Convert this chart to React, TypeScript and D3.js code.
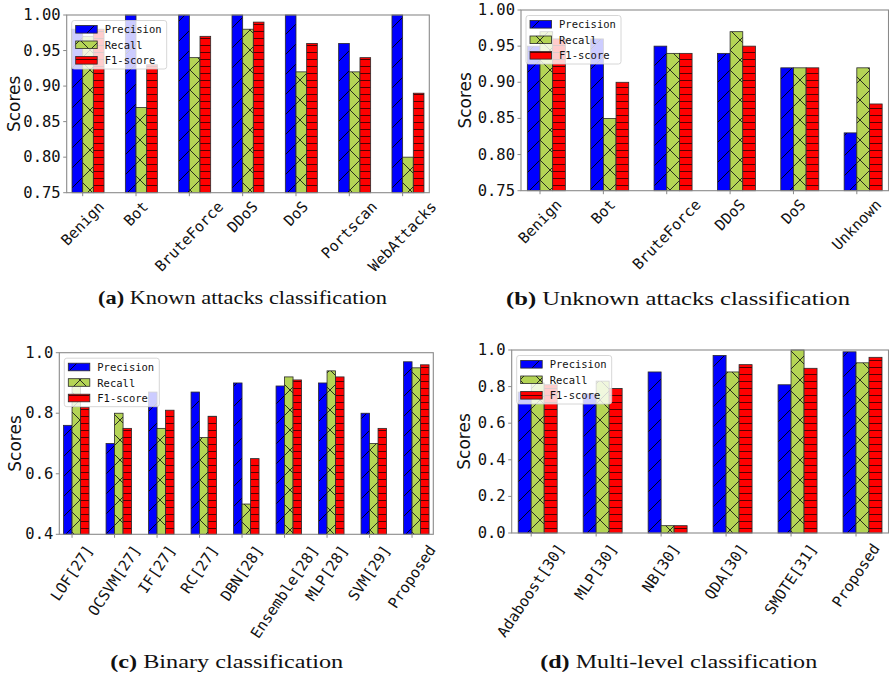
import React from "react";
import * as d3 from "d3";

// ===== data =====
const seriesNames = ["Precision", "Recall", "F1-score"];

// (a) known attacks
const knownCats = ["Benign", "Bot", "BruteForce", "DDoS", "DoS", "Portscan", "WebAttacks"];
const knownPrecision = [0.98, 1.0, 1.0, 1.0, 1.0, 0.96, 1.0];
const knownRecall = [0.97, 0.87, 0.94, 0.98, 0.92, 0.92, 0.8];
const knownF1 = [0.98, 0.93, 0.97, 0.99, 0.96, 0.94, 0.89];

// (b) unknown attacks
const unknownCats = ["Benign", "Bot", "BruteForce", "DDoS", "DoS", "Unknown"];
const unknownPrecision = [0.95, 0.96, 0.95, 0.94, 0.92, 0.83];
const unknownRecall = [0.97, 0.85, 0.94, 0.97, 0.92, 0.92];
const unknownF1 = [0.96, 0.9, 0.94, 0.95, 0.92, 0.87];

// (c) binary
const binaryCats = ["LOF[27]", "OCSVM[27]", "IF[27]", "RC[27]", "DBN[28]", "Ensemble[28]", "MLP[28]", "SVM[29]", "Proposed"];
const binaryPrecision = [0.76, 0.7, 0.87, 0.87, 0.9, 0.89, 0.9, 0.8, 0.97];
const binaryRecall = [0.89, 0.8, 0.75, 0.72, 0.5, 0.92, 0.94, 0.7, 0.95];
const binaryF1 = [0.82, 0.75, 0.81, 0.79, 0.65, 0.91, 0.92, 0.75, 0.96];

// (d) multi-level
const multiCats = ["Adaboost[30]", "MLP[30]", "NB[30]", "QDA[30]", "SMOTE[31]", "Proposed"];
const multiPrecision = [0.77, 0.76, 0.88, 0.97, 0.81, 0.99];
const multiRecall = [0.82, 0.83, 0.04, 0.88, 1.0, 0.93];
const multiF1 = [0.81, 0.79, 0.04, 0.92, 0.9, 0.96];

const yTicksHigh = [0.75, 0.8, 0.85, 0.9, 0.95, 1.0];
const yTicksBinary = [0.4, 0.6, 0.8, 1.0];
const yTicksMulti = [0.0, 0.2, 0.4, 0.6, 0.8, 1.0];

// ===== styles =====
const fills = ["url(#hatchSlash)", "url(#hatchCross)", "url(#hatchDash)"];
const MONO = "'DejaVu Sans Mono', monospace";
const SANS = "'DejaVu Sans', sans-serif";
const SERIF = "'Liberation Serif', 'Times New Roman', serif";
const SPINE = "#8a8a8a";
const BAR_W = 0.2;

const panels = [
  {
    key: "a", cats: knownCats, values: [knownPrecision, knownRecall, knownF1],
    yDomain: [0.75, 1.0], yTicks: yTicksHigh, fmt: ".2f",
    left: 66.7, right: 429.3, top: 15, bottom: 192.7, ylabelX: 14,
    rot: 46, labelFs: 15, labelPad: 7,
    capLetter: "(a)", capText: " Known attacks classification", capX: 242.5, capY: 304, capW: 289,
  },
  {
    key: "b", cats: unknownCats, values: [unknownPrecision, unknownRecall, unknownF1],
    yDomain: [0.75, 1.0], yTicks: yTicksHigh, fmt: ".2f",
    left: 521, right: 888.5, top: 10, bottom: 190.7, ylabelX: 465,
    rot: 46, labelFs: 15, labelPad: 7,
    capLetter: "(b)", capText: " Unknown attacks classification", capX: 678, capY: 305, capW: 344,
  },
  {
    key: "c", cats: binaryCats, values: [binaryPrecision, binaryRecall, binaryF1],
    yDomain: [0.4, 1.0], yTicks: yTicksBinary, fmt: ".1f",
    left: 59.3, right: 433.3, top: 352.7, bottom: 534.3, ylabelX: 15,
    rot: 56, labelFs: 15, labelPad: 9,
    capLetter: "(c)", capText: " Binary classification", capX: 226.7, capY: 668, capW: 233,
  },
  {
    key: "d", cats: multiCats, values: [multiPrecision, multiRecall, multiF1],
    yDomain: [0, 1.0], yTicks: yTicksMulti, fmt: ".1f",
    left: 511.7, right: 888.5, top: 350, bottom: 533, ylabelX: 464,
    rot: 56, labelFs: 15, labelPad: 9,
    capLetter: "(d)", capText: " Multi-level classification", capX: 678.7, capY: 668, capW: 277,
  },
];

function Panel({ p }: { p: any }) {
  const n = p.cats.length;
  const x = d3.scaleLinear().domain([-0.3, n - 1 + 0.5]).range([p.left, p.right]);
  const y = d3.scaleLinear().domain(p.yDomain).range([p.bottom, p.top]);
  const fmt = d3.format(p.fmt);

  const charW = 0.602 * p.labelFs;
  const rad = (p.rot * Math.PI) / 180;

  const bars: any[] = [];
  p.values.forEach((vals: number[], s: number) => {
    vals.forEach((v, i) => {
      const x0 = x(i + (s - 1) * BAR_W);
      const x1 = x(i + s * BAR_W);
      bars.push({ key: `${s}-${i}`, x: x0, w: x1 - x0, y: y(v), h: y(p.yDomain[0]) - y(v), s });
    });
  });

  // legend
  const lgX = p.left + 5;
  const lgY = p.top + 5.5;
  const rowH = 15.5;

  return (
    <g>
      {bars.map((b) => (
        <rect
          key={b.key}
          x={b.x}
          y={b.y}
          width={b.w}
          height={b.h}
          fill={fills[b.s]}
          stroke="#2a2a2a"
          strokeWidth={0.8}
        />
      ))}

      {/* spines */}
      <rect
        x={p.left}
        y={p.top}
        width={p.right - p.left}
        height={p.bottom - p.top}
        fill="none"
        stroke={SPINE}
        strokeWidth={1.1}
      />

      {/* y axis */}
      {p.yTicks.map((t: number) => (
        <g key={t}>
          <line x1={p.left - 3.5} x2={p.left} y1={y(t)} y2={y(t)} stroke={SPINE} strokeWidth={1} />
          <text
            x={p.left - 6}
            y={y(t)}
            textAnchor="end"
            dominantBaseline="central"
            fontFamily={MONO}
            fontSize={15.5}
            fill="#111"
          >
            {fmt(t)}
          </text>
        </g>
      ))}
      <text
        transform={`translate(${p.ylabelX},${(p.top + p.bottom) / 2}) rotate(-90)`}
        textAnchor="middle"
        dominantBaseline="central"
        fontFamily={SANS}
        fontSize={17}
        fill="#111"
      >
        Scores
      </text>

      {/* x axis */}
      {p.cats.map((c: string, i: number) => {
        const tx = x(i);
        const L = c.length * charW;
        const H = p.labelFs * 0.85;
        const cy = p.bottom + p.labelPad + (L * Math.sin(rad) + H * Math.cos(rad)) / 2;
        return (
          <g key={c}>
            <line x1={tx} x2={tx} y1={p.bottom} y2={p.bottom + 3.5} stroke={SPINE} strokeWidth={1} />
            <text
              transform={`translate(${tx},${cy}) rotate(${-p.rot})`}
              textAnchor="middle"
              dominantBaseline="central"
              fontFamily={MONO}
              fontSize={p.labelFs}
              fill="#111"
            >
              {c}
            </text>
          </g>
        );
      })}

      {/* legend */}
      <rect x={lgX} y={lgY} width={95} height={48.5} rx={2.5} fill="white" fillOpacity={0.8} stroke="#cccccc" strokeWidth={0.8} />
      {seriesNames.map((name, s) => {
        const cy = lgY + 8.8 + s * rowH;
        return (
          <g key={name}>
            <rect x={lgX + 4} y={cy - 3.8} width={21.5} height={7.6} fill={fills[s]} stroke="#2a2a2a" strokeWidth={0.8} />
            <text x={lgX + 33} y={cy} dominantBaseline="central" fontFamily={MONO} fontSize={10.5} fill="#111">
              {name}
            </text>
          </g>
        );
      })}

      {/* caption */}
      <text
        x={p.capX}
        y={p.capY}
        textAnchor="middle"
        fontFamily={SERIF}
        fontSize={19.5}
        fill="#111"
        textLength={p.capW}
        lengthAdjust="spacingAndGlyphs"
      >
        <tspan fontWeight="bold">{p.capLetter}</tspan>
        <tspan>{p.capText}</tspan>
      </text>
    </g>
  );
}

export default function App() {
  return (
    <svg
      width={889}
      height={683}
      viewBox="0 0 889 683"
      style={{ position: "absolute", left: 0, top: 0, background: "white" }}
    >
      <defs>
        <pattern id="hatchSlash" patternUnits="userSpaceOnUse" width={20} height={20}>
          <rect width={20} height={20} fill="#0000ff" />
          <path d="M0,20 L20,0 M-5,5 L5,-5 M15,25 L25,15" stroke="#000" strokeWidth={0.9} />
        </pattern>
        <pattern id="hatchCross" patternUnits="userSpaceOnUse" width={20} height={20}>
          <rect width={20} height={20} fill="#b4d455" />
          <path
            d="M0,20 L20,0 M-5,5 L5,-5 M15,25 L25,15 M0,0 L20,20 M-5,15 L5,25 M15,-5 L25,5"
            stroke="#1a1a1a"
            strokeWidth={0.9}
          />
        </pattern>
        <pattern id="hatchDash" patternUnits="userSpaceOnUse" width={10} height={7}>
          <rect width={10} height={7} fill="#ff0000" />
          <line x1={0} x2={10} y1={3.5} y2={3.5} stroke="#400000" strokeWidth={0.9} />
        </pattern>
      </defs>
      {panels.map((p) => (
        <Panel key={p.key} p={p} />
      ))}
    </svg>
  );
}
